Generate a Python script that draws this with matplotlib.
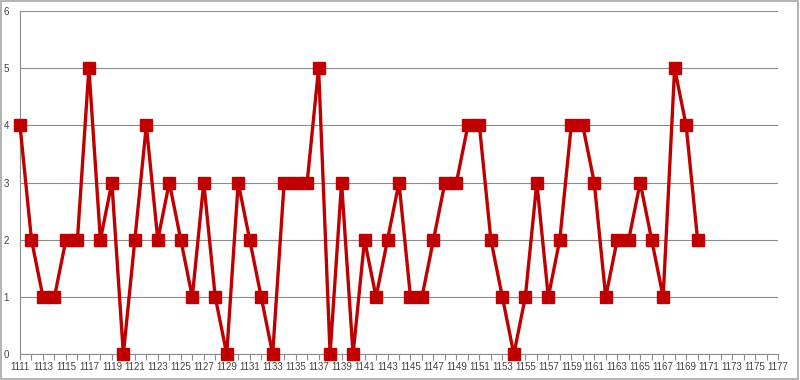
import numpy as np
import matplotlib.pyplot as plt
from matplotlib.patches import Rectangle

years = list(range(1111, 1171))
counts = [4, 2, 1, 1, 2, 2, 5, 2, 3, 0,
          2, 4, 2, 3, 2, 1, 3, 1, 0, 3,
          2, 1, 0, 3, 3, 3, 5, 0, 3, 0,
          2, 1, 2, 3, 1, 1, 2, 3, 3, 4,
          4, 2, 1, 0, 1, 3, 1, 2, 4, 4,
          3, 1, 2, 2, 3, 2, 1, 5, 4, 2]
first_year = 1111
last_year = 1177

plt.rcParams['font.family'] = ['Liberation Sans', 'DejaVu Sans']

fig = plt.figure(figsize=(8, 3.8), dpi=100)
ax = fig.add_axes([0.025, 0.068, 0.9475, 0.903])

ax.plot(years, counts, color='#c00000', lw=2.4, marker='s', ms=8.5,
        mec='#c00000', mfc='#c00000', zorder=3, clip_on=False)

ax.set_xlim(first_year, last_year)
ax.set_ylim(0, 6)
ax.set_yticks(range(0, 7))
ax.grid(axis='y', color='#8c8c8c', lw=0.8)
ax.set_axisbelow(True)

ax.set_xticks(range(first_year, last_year + 1), minor=True)
ax.set_xticks(range(first_year, last_year + 1, 2))
ax.set_xticklabels([str(y) for y in range(first_year, last_year + 1, 2)])
ax.tick_params(axis='x', which='both', direction='out', length=4,
               color='#8c8c8c', width=0.8)
ax.tick_params(axis='x', labelsize=7, labelcolor='#404040', pad=1.5)
ax.tick_params(axis='y', length=0, labelsize=7, labelcolor='#404040', pad=8)

for side in ['top', 'right']:
    ax.spines[side].set_visible(False)
ax.spines['left'].set_color('#8c8c8c')
ax.spines['bottom'].set_color('#8c8c8c')
ax.spines['left'].set_linewidth(0.8)
ax.spines['bottom'].set_linewidth(0.8)

fig.patches.append(Rectangle((0.001, 0.002), 0.997, 0.995, transform=fig.transFigure,
                             fill=False, edgecolor='#a6a6a6', lw=1.2))

fig.savefig('out.png', dpi=100)
